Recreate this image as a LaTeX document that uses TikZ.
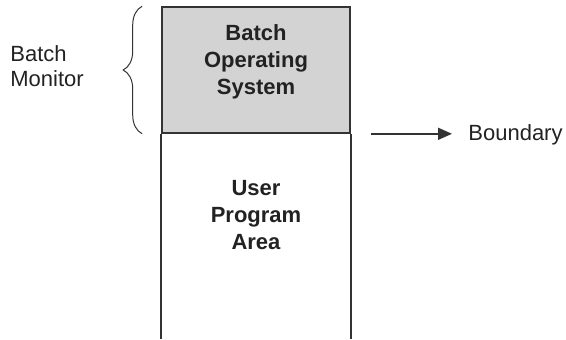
\documentclass[tikz,border=0pt]{standalone}
\usepackage{fontspec}
\setmainfont{Liberation Sans}
\usetikzlibrary{arrows.meta,positioning,decorations.pathreplacing}
\definecolor{memline}{HTML}{333333}
\definecolor{memtext}{HTML}{222222}
\definecolor{memgray}{HTML}{D3D3D3}

\begin{document}
\begin{tikzpicture}[x=0.5pt,y=-0.5pt,>=Latex,text=memtext]
\tikzset{
osbox/.style={draw=memline,line width=0.8pt,fill=memgray,minimum width=94pt,minimum height=63pt,inner sep=0pt},
boxlbl/.style={font=\bfseries\fontsize{11}{13.5}\selectfont,align=center,inner sep=0pt},
sidelbl/.style={font=\fontsize{11}{12.5}\selectfont,align=left,inner sep=0pt},
wall/.style={draw=memline,line width=0.8pt},
brc/.style={draw=memline,line width=0.5pt,decorate,decoration={brace,amplitude=9.5pt}},
a/.style={-{Triangle[length=7pt,width=6pt]},line width=0.8pt,draw=memline}}
\useasboundingbox (0,0) rectangle (566,339);

\node[osbox] (os) at (256,70) {};
\node[boxlbl] (oslbl) at (256,62) {Batch\\Operating\\System};
\node[boxlbl] (userlbl) at (256,215) {User\\Program\\Area};
\node[sidelbl,anchor=west] (monitor) at (10,66) {Batch\\Monitor};
\node[sidelbl,anchor=base west] (bnd) at (468,140) {Boundary};

% open-ended user area below the monitor
\coordinate (floor) at (256,339);
\draw[wall] (os.south west) -- (os.south west |- floor);
\draw[wall] (os.south east) -- (os.south east |- floor);

\draw[brc] ([xshift=-9.5pt]os.south west) -- ([xshift=-9.5pt]os.north west);
\draw[a] ([xshift=10pt]os.south east) -- ([xshift=-8pt]bnd.west |- os.south east);
\end{tikzpicture}
\end{document}
